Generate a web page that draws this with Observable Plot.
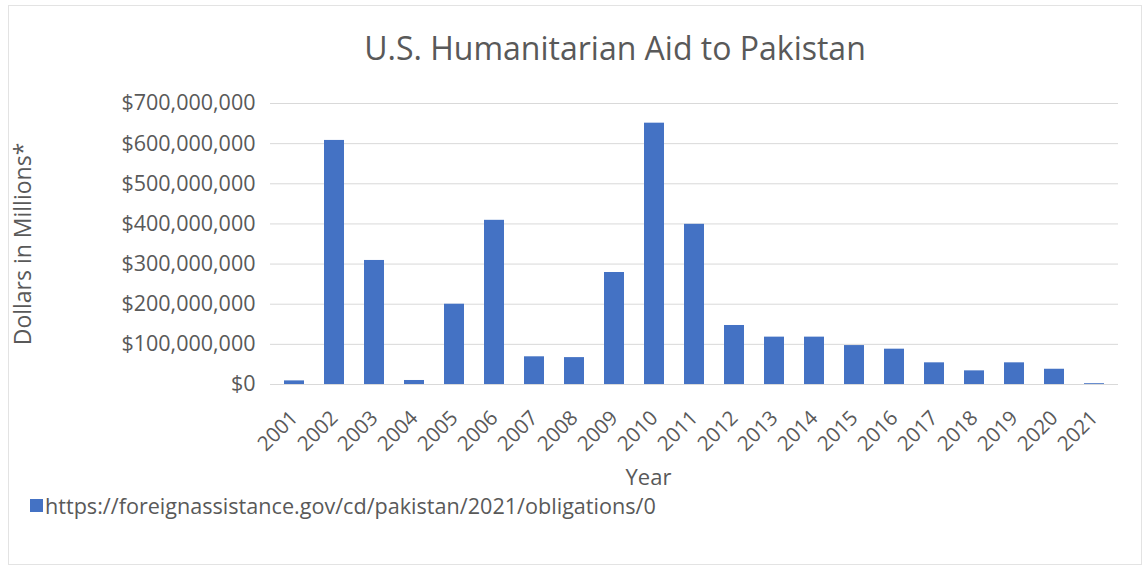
<!DOCTYPE html>
<html>
<head>
<meta charset="utf-8">
<script src="https://cdn.jsdelivr.net/npm/d3@7"></script>
<script src="https://cdn.jsdelivr.net/npm/@observablehq/plot@0.6"></script>
<style>
  html, body { margin: 0; padding: 0; background: #fff; }
  body { width: 1144px; height: 571px; position: relative; overflow: hidden; font-family: "Open Sans", sans-serif; }
  #frame { position: absolute; left: 8px; top: 5px; width: 1134px; height: 560px; border: 1px solid #e3e3e3; box-sizing: border-box; }
  #title { position: absolute; left: 0; top: 26px; width: 1230px; text-align: center; font-size: 32px; color: #595959; }
  #chart { position: absolute; left: 0; top: 78px; }
  #legend { position: absolute; left: 30px; top: 491px; font-size: 21.6px; color: #595959; display: flex; align-items: center; }
  #legend .sw { width: 13px; height: 13px; background: #4472c4; margin-right: 2px; }
</style>
</head>
<body>
<div id="frame"></div>
<div id="title">U.S. Humanitarian Aid to Pakistan</div>
<div id="chart"></div>
<div id="legend"><span class="sw"></span><span>https://foreignassistance.gov/cd/pakistan/2021/obligations/0</span></div>
<script>
const years = ["2001","2002","2003","2004","2005","2006","2007","2008","2009","2010","2011","2012","2013","2014","2015","2016","2017","2018","2019","2020","2021"];
const amounts = [9e6, 608e6, 309e6, 10e6, 200e6, 409e6, 69e6, 67e6, 279e6, 651e6, 399e6, 147e6, 118e6, 118e6, 97e6, 88e6, 54e6, 34e6, 54e6, 38e6, 2e6];
const yTicks = [0, 100e6, 200e6, 300e6, 400e6, 500e6, 600e6, 700e6];

const data = years.map((y, i) => ({year: y, amount: amounts[i]}));
const fmt = d => "$" + d3.format(",")(d);

const chart = Plot.plot({
  width: 1144,
  height: 412,
  marginTop: 25,
  marginBottom: 106,
  marginLeft: 270,
  marginRight: 26,
  style: {fontFamily: "Open Sans, sans-serif", fontSize: "16px", color: "#595959", background: "transparent"},
  x: {domain: years, padding: 0, label: null},
  y: {domain: [0, 700e6], label: null},
  marks: [
    Plot.gridY(yTicks, {stroke: "#d9d9d9", strokeOpacity: 1}),
    Plot.barY(data, {x: "year", y: "amount", fill: "#4472c4", insetLeft: 10, insetRight: 10}),
    Plot.axisY(yTicks, {tickFormat: fmt, tickSize: 0, tickPadding: 15, fontSize: 21.5, fill: "#595959",
      label: "Dollars in Millions*", labelAnchor: "center", labelArrow: "none", labelOffset: 256}),
    Plot.axisX({tickRotate: -45, tickSize: 0, tickPadding: 30, fontSize: 20.5, fill: "#595959",
      label: "Year", labelAnchor: "center", labelArrow: "none", labelOffset: 100}),
    Plot.ruleY([0], {stroke: "#d9d9d9"})
  ]
});
chart.querySelectorAll("g[aria-label='y-axis label'] text").forEach(t => { t.style.fontSize = "23px"; });
chart.querySelectorAll("g[aria-label='x-axis label'] text").forEach(t => { t.style.fontSize = "22px"; t.setAttribute("dx", "-46"); });
document.getElementById("chart").appendChild(chart);
</script>
</body>
</html>
